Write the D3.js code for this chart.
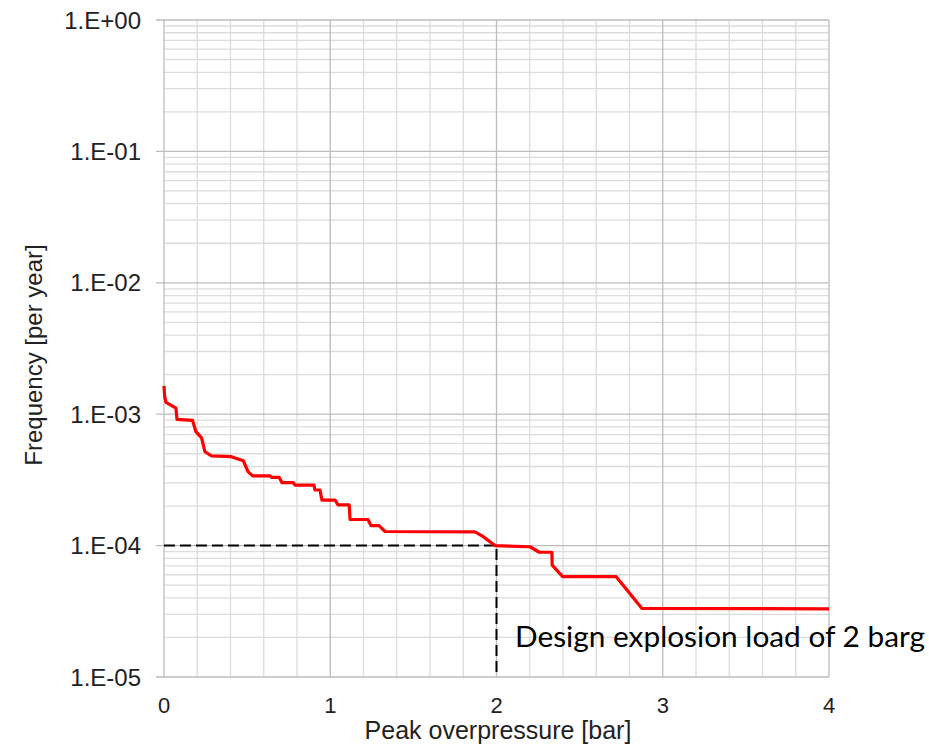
<!DOCTYPE html>
<html>
<head>
<meta charset="utf-8">
<script src="https://cdn.jsdelivr.net/npm/d3@7"></script>
<style>
  body { margin: 0; background: #fff; }
  text { font-family: "Liberation Sans", Arial, sans-serif; fill: #222; }
</style>
</head>
<body>
<script>
// peak overpressure [bar]
var pressure = [0, 0.004, 0.012, 0.072, 0.078, 0.172, 0.192, 0.226, 0.246, 0.286,
  0.406, 0.427, 0.477, 0.505, 0.533, 0.638, 0.647, 0.693, 0.710, 0.778,
  0.788, 0.902, 0.908, 0.938, 0.950, 1.029, 1.047, 1.114, 1.119, 1.227,
  1.245, 1.293, 1.330, 1.871, 1.920, 1.991, 2.201, 2.258, 2.333, 2.335,
  2.398, 2.720, 2.874, 4.0];
// frequency [per year]
var frequency = [1.64e-3, 1.36e-3, 1.23e-3, 1.11e-3, 9.14e-4, 8.96e-4, 7.36e-4, 6.6e-4, 5.19e-4, 4.81e-4,
  4.75e-4, 4.64e-4, 4.43e-4, 3.66e-4, 3.39e-4, 3.39e-4, 3.3e-4, 3.3e-4, 3.01e-4, 3.01e-4,
  2.89e-4, 2.89e-4, 2.65e-4, 2.65e-4, 2.22e-4, 2.22e-4, 2.04e-4, 2.04e-4, 1.58e-4, 1.58e-4,
  1.42e-4, 1.42e-4, 1.28e-4, 1.27e-4, 1.17e-4, 1.0e-4, 9.8e-5, 8.9e-5, 8.9e-5, 7.1e-5,
  5.8e-5, 5.8e-5, 3.33e-5, 3.3e-5];

var xTicks = [0, 1, 2, 3, 4];
var yTicks = [1e-5, 1e-4, 1e-3, 1e-2, 1e-1, 1];
var designLoad = 2;
var designFreq = 1e-4;

var w = 929, h = 756;
var svg = d3.select("body").append("svg")
    .attr("width", w)
    .attr("height", h);

var x = d3.scaleLinear().domain([0, 4]).range([164, 829]);
var y = d3.scaleLog().domain([1e-5, 1]).range([677, 20]);

//minor gridlines
var minorX = d3.range(0, 4.001, 0.2).filter(function(d){ return Math.abs(d - Math.round(d)) > 1e-6; });
var minorY = [];
yTicks.slice(0, -1).forEach(function(t){
    for (var k = 2; k < 10; k++) minorY.push(t * k);
});

var grid = svg.append("g").attr("class", "grid");
grid.selectAll(".minorx").data(minorX).enter().append("line")
    .attr("x1", x).attr("x2", x)
    .attr("y1", y(1)).attr("y2", y(1e-5))
    .style("stroke", "#dcdcdc").style("stroke-width", 1.3);
grid.selectAll(".minory").data(minorY).enter().append("line")
    .attr("x1", x(0)).attr("x2", x(4))
    .attr("y1", y).attr("y2", y)
    .style("stroke", "#dcdcdc").style("stroke-width", 1.3);
grid.selectAll(".majorx").data(xTicks).enter().append("line")
    .attr("x1", x).attr("x2", x)
    .attr("y1", y(1)).attr("y2", y(1e-5))
    .style("stroke", "#bdbdbd").style("stroke-width", 1.3);
grid.selectAll(".majory").data(yTicks).enter().append("line")
    .attr("x1", x(0) - 8).attr("x2", x(4))
    .attr("y1", y).attr("y2", y)
    .style("stroke", "#bdbdbd").style("stroke-width", 1.3);

//axis labels
var fmt = function(d){
    var e = Math.round(Math.log10(d));
    return "1.E" + (e < 0 ? "-" : "+") + d3.format("02d")(Math.abs(e));
};
svg.selectAll(".ylab").data(yTicks).enter().append("text")
    .attr("x", 141)
    .attr("y", y)
    .attr("dy", "0.36em")
    .attr("text-anchor", "end")
    .style("font-size", "24px")
    .text(fmt);
svg.selectAll(".xlab").data(xTicks).enter().append("text")
    .attr("x", x)
    .attr("y", 713)
    .attr("text-anchor", "middle")
    .style("font-size", "22px")
    .text(function(d){ return d; });

svg.append("text")
    .attr("x", 498).attr("y", 739)
    .attr("text-anchor", "middle")
    .style("font-size", "25px")
    .text("Peak overpressure [bar]");
svg.append("text")
    .attr("transform", "translate(42,355) rotate(-90)")
    .attr("text-anchor", "middle")
    .style("font-size", "24px")
    .text("Frequency [per year]");

//design load dashed guide
svg.append("path")
    .attr("d", "M" + x(0) + "," + y(designFreq) + "H" + x(designLoad) + "V" + y(1e-5))
    .style("fill", "none")
    .style("stroke", "#000")
    .style("stroke-width", 2)
    .style("stroke-dasharray", "11,5");

//frequency curve
var pts = pressure.map(function(p, i){ return [p, frequency[i]]; });
var line = d3.line()
    .x(function(d){ return x(d[0]); })
    .y(function(d){ return y(d[1]); });
svg.append("path")
    .datum(pts)
    .attr("d", line)
    .style("fill", "none")
    .style("stroke", "#ff0000")
    .style("stroke-width", 3.2)
    .style("stroke-linejoin", "round");

svg.append("text")
    .attr("x", 515).attr("y", 647)
    .attr("textLength", 410)
    .attr("lengthAdjust", "spacingAndGlyphs")
    .style("font-family", "Lato, sans-serif")
    .style("font-size", "28px")
    .style("fill", "#000")
    .text("Design explosion load of 2 barg");
</script>
</body>
</html>
